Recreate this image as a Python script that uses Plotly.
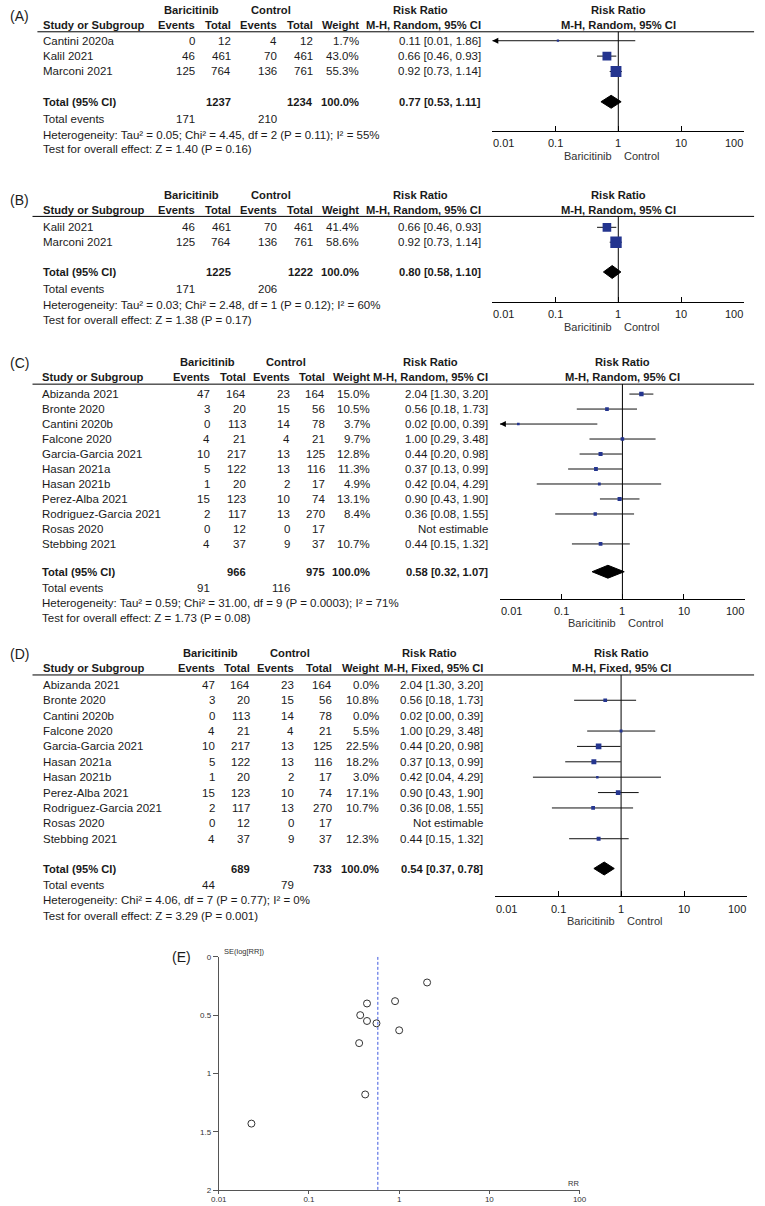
import math
import plotly.graph_objects as go

W, H = 765, 1206
FONT = "Liberation Sans, Arial, sans-serif"
TXT = "#1a1a1a"
BLUE = "#24358f"

# ---------------- data ----------------
# Panel A
studies_A = ["Cantini 2020a", "Kalil 2021", "Marconi 2021"]
ev_bari_A = [0, 46, 125]
n_bari_A = [12, 461, 764]
ev_ctrl_A = [4, 70, 136]
n_ctrl_A = [12, 461, 761]
weight_A = [1.7, 43.0, 55.3]
rr_A = [0.11, 0.66, 0.92]
lo_A = [0.01, 0.46, 0.73]
hi_A = [1.86, 0.93, 1.14]
tot_n_A = [1237, 1234]
tot_rr_A = [0.77, 0.53, 1.11]
tot_ev_A = [171, 210]
het_A = "Heterogeneity: Tau² = 0.05; Chi² = 4.45, df = 2 (P = 0.11); I² = 55%"
test_A = "Test for overall effect: Z = 1.40 (P = 0.16)"

# Panel B
studies_B = ["Kalil 2021", "Marconi 2021"]
ev_bari_B = [46, 125]
n_bari_B = [461, 764]
ev_ctrl_B = [70, 136]
n_ctrl_B = [461, 761]
weight_B = [41.4, 58.6]
rr_B = [0.66, 0.92]
lo_B = [0.46, 0.73]
hi_B = [0.93, 1.14]
tot_n_B = [1225, 1222]
tot_rr_B = [0.80, 0.58, 1.10]
tot_ev_B = [171, 206]
het_B = "Heterogeneity: Tau² = 0.03; Chi² = 2.48, df = 1 (P = 0.12); I² = 60%"
test_B = "Test for overall effect: Z = 1.38 (P = 0.17)"

# Panels C and D (same studies)
studies_CD = ["Abizanda 2021", "Bronte 2020", "Cantini 2020b", "Falcone 2020",
              "Garcia-Garcia 2021", "Hasan 2021a", "Hasan 2021b", "Perez-Alba 2021",
              "Rodriguez-Garcia 2021", "Rosas 2020", "Stebbing 2021"]
ev_bari_CD = [47, 3, 0, 4, 10, 5, 1, 15, 2, 0, 4]
n_bari_CD = [164, 20, 113, 21, 217, 122, 20, 123, 117, 12, 37]
ev_ctrl_CD = [23, 15, 14, 4, 13, 13, 2, 10, 13, 0, 9]
n_ctrl_CD = [164, 56, 78, 21, 125, 116, 17, 74, 270, 17, 37]
rr_CD = [2.04, 0.56, 0.02, 1.00, 0.44, 0.37, 0.42, 0.90, 0.36, None, 0.44]
lo_CD = [1.30, 0.18, 0.00, 0.29, 0.20, 0.13, 0.04, 0.43, 0.08, None, 0.15]
hi_CD = [3.20, 1.73, 0.39, 3.48, 0.98, 0.99, 4.29, 1.90, 1.55, None, 1.32]
weight_C = [15.0, 10.5, 3.7, 9.7, 12.8, 11.3, 4.9, 13.1, 8.4, None, 10.7]
weight_D = [0.0, 10.8, 0.0, 5.5, 22.5, 18.2, 3.0, 17.1, 10.7, None, 12.3]
tot_n_C = [966, 975]
tot_rr_C = [0.58, 0.32, 1.07]
tot_ev_C = [91, 116]
het_C = "Heterogeneity: Tau² = 0.59; Chi² = 31.00, df = 9 (P = 0.0003); I² = 71%"
test_C = "Test for overall effect: Z = 1.73 (P = 0.08)"
tot_n_D = [689, 733]
tot_rr_D = [0.54, 0.37, 0.78]
tot_ev_D = [44, 79]
het_D = "Heterogeneity: Chi² = 4.06, df = 7 (P = 0.77); I² = 0%"
test_D = "Test for overall effect: Z = 3.29 (P = 0.001)"

# Panel E (funnel plot of panel C studies)
funnel_rr = [2.04, 0.56, 0.023, 1.00, 0.44, 0.37, 0.42, 0.90, 0.36, 0.44]
funnel_se = [0.22, 0.57, 1.43, 0.63, 0.40, 0.50, 1.18, 0.38, 0.74, 0.55]

axis_ticks = [0.01, 0.1, 1, 10, 100]
axis_ticktext = ["0.01", "0.1", "1", "10", "100"]
se_ticks = [0, 0.5, 1, 1.5, 2]
se_ticktext = ["0", "0.5", "1", "1.5", "2"]

# ---------------- layout constants (pixels) ----------------
COLS_AB = dict(study=35, ev1=191.5, tot1=228, ev2=275, tot2=312, wt=359, rr=483,
               bari=187, ctrl=268, rrh=421)
COLS_C = dict(study=34, ev1=207.3, tot1=243.3, ev2=288.3, tot2=324, wt=370.7, rr=491,
              bari=203, ctrl=284, rrh=431)
COLS_D = dict(study=35, ev1=211.7, tot1=248.3, ev2=293, tot2=331, wt=379.3, rr=486,
              bari=206.7, ctrl=287.5, rrh=429.5)

panels = [
    dict(label="(A)", lab_y=12, h1=6, h2=21, line=28, x0=30, r0=37, s=15.5, total=98.5,
         te=116, het=131.5, test=146.5, axis=128, fx0=494, fx1=751, cols=COLS_AB,
         method="M-H, Random, 95% CI",
         studies=studies_A, ev1=ev_bari_A, n1=n_bari_A, ev2=ev_ctrl_A, n2=n_ctrl_A,
         w=weight_A, rr=rr_A, lo=lo_A, hi=hi_A, tn=tot_n_A, trr=tot_rr_A, tev=tot_ev_A,
         hettxt=het_A, testtxt=test_A),
    dict(label="(B)", lab_y=197, h1=192, h2=208, line=214, x0=25, r0=225, s=15, total=270,
         te=287, het=303, test=318, axis=300, fx0=494, fx1=751, cols=COLS_AB,
         method="M-H, Random, 95% CI",
         studies=studies_B, ev1=ev_bari_B, n1=n_bari_B, ev2=ev_ctrl_B, n2=n_ctrl_B,
         w=weight_B, rr=rr_B, lo=lo_B, hi=hi_B, tn=tot_n_B, trr=tot_rr_B, tev=tot_ev_B,
         hettxt=het_B, testtxt=test_B),
    dict(label="(C)", lab_y=362, h1=361, h2=376, line=383, x0=25, r0=393, s=15.1, total=572,
         te=588, het=604, test=619, axis=599, fx0=501.7, fx1=751.7, cols=COLS_C,
         method="M-H, Random, 95% CI",
         studies=studies_CD, ev1=ev_bari_CD, n1=n_bari_CD, ev2=ev_ctrl_CD, n2=n_ctrl_CD,
         w=weight_C, rr=rr_CD, lo=lo_CD, hi=hi_CD, tn=tot_n_C, trr=tot_rr_C, tev=tot_ev_C,
         hettxt=het_C, testtxt=test_C),
    dict(label="(D)", lab_y=655, h1=654, h2=669, line=676, x0=25, r0=686, s=15.5, total=871,
         te=888, het=903, test=919, axis=899, fx0=496.7, fx1=754, cols=COLS_D,
         method="M-H, Fixed, 95% CI",
         studies=studies_CD, ev1=ev_bari_CD, n1=n_bari_CD, ev2=ev_ctrl_CD, n2=n_ctrl_CD,
         w=weight_D, rr=rr_CD, lo=lo_CD, hi=hi_CD, tn=tot_n_D, trr=tot_rr_D, tev=tot_ev_D,
         hettxt=het_D, testtxt=test_D),
]

REG = 11.5
BOLD = 11.2
AX_MIN, AX_MAX = 0.01, 100

fig = go.Figure()
annotations = []
shapes = []
layout_axes = {}


def px_x(x):
    return x / W


def px_y(y):
    return 1 - y / H


def txt(x, y, text, xanchor="left", xref="paper", yref="paper", bold=False, size=None,
        color=TXT, xshift=0):
    if bold:
        text = "<b>" + text + "</b>"
    annotations.append(dict(
        x=x, y=y, xref=xref, yref=yref, text=text, showarrow=False,
        xanchor=xanchor, yanchor="middle", xshift=xshift, borderpad=0,
        font=dict(family=FONT, size=size or (BOLD if bold else REG), color=color)))


for k, P in enumerate(panels, start=1):
    sfx = "" if k == 1 else str(k)
    xa, ya = "x" + sfx, "y" + sfx
    C = P["cols"]
    r0, s = P["r0"], P["s"]

    def row(px, r0=r0, s=s):
        return (px - r0) / s

    top_px, bot_px = max(0, P["h1"] - 10), P["test"] + 10
    layout_axes["xaxis" + sfx] = dict(
        type="log", range=[math.log10(AX_MIN), math.log10(AX_MAX)],
        domain=[px_x(P["fx0"]), px_x(P["fx1"])], anchor="free",
        position=px_y(P["axis"]), showline=True, linecolor="black", linewidth=1,
        ticks="inside", ticklen=5, tickcolor="black", tickwidth=1,
        tickvals=axis_ticks, showticklabels=False, showgrid=False, zeroline=False,
        fixedrange=True)
    layout_axes["yaxis" + sfx] = dict(
        range=[row(bot_px), row(top_px)], domain=[px_y(bot_px), px_y(top_px)],
        anchor=xa, visible=False, showgrid=False, zeroline=False, fixedrange=True)

    # panel label
    txt(px_x(12), px_y(P["lab_y"]), P["label"], xanchor="center", size=14)

    # headers
    txt(px_x(C["bari"]), px_y(P["h1"]), "Baricitinib", "center", bold=True)
    txt(px_x(C["ctrl"]), px_y(P["h1"]), "Control", "center", bold=True)
    txt(px_x(C["rrh"]), px_y(P["h1"]), "Risk Ratio", "center", bold=True)
    txt(px_x(C["study"]), px_y(P["h2"]), "Study or Subgroup", "left", bold=True)
    txt(px_x(C["ev1"]), px_y(P["h2"]), "Events", "right", bold=True)
    txt(px_x(C["tot1"]), px_y(P["h2"]), "Total", "right", bold=True)
    txt(px_x(C["ev2"]), px_y(P["h2"]), "Events", "right", bold=True)
    txt(px_x(C["tot2"]), px_y(P["h2"]), "Total", "right", bold=True)
    txt(px_x(C["wt"]), px_y(P["h2"]), "Weight", "right", bold=True)
    txt(px_x(C["rr"]), px_y(P["h2"]), P["method"], "right", bold=True)
    txt(0, px_y(P["h1"]), "Risk Ratio", "center", xref=xa, bold=True)
    txt(0, px_y(P["h2"]), P["method"], "center", xref=xa, bold=True)

    shapes.append(dict(type="line", xref="paper", yref="paper",
                       x0=px_x(P["x0"]), x1=px_x(761), y0=px_y(P["line"]), y1=px_y(P["line"]),
                       line=dict(color="black", width=1)))

    # study rows
    for i, name in enumerate(P["studies"]):
        txt(px_x(C["study"]), i, name, "left", yref=ya)
        txt(px_x(C["ev1"]), i, str(P["ev1"][i]), "right", yref=ya)
        txt(px_x(C["tot1"]), i, str(P["n1"][i]), "right", yref=ya)
        txt(px_x(C["ev2"]), i, str(P["ev2"][i]), "right", yref=ya)
        txt(px_x(C["tot2"]), i, str(P["n2"][i]), "right", yref=ya)
        w = P["w"][i]
        if w is not None:
            txt(px_x(C["wt"]), i, f"{w:.1f}%", "right", yref=ya)
        if P["rr"][i] is None:
            rrtxt = "Not estimable"
        else:
            rrtxt = f"{P['rr'][i]:.2f} [{P['lo'][i]:.2f}, {P['hi'][i]:.2f}]"
        txt(px_x(C["rr"]), i, rrtxt, "right", yref=ya)

    # totals
    yt = row(P["total"])
    txt(px_x(C["study"]), yt, "Total (95% CI)", "left", yref=ya, bold=True)
    txt(px_x(C["tot1"]), yt, str(P["tn"][0]), "right", yref=ya, bold=True)
    txt(px_x(C["tot2"]), yt, str(P["tn"][1]), "right", yref=ya, bold=True)
    txt(px_x(C["wt"]), yt, "100.0%", "right", yref=ya, bold=True)
    trr = P["trr"]
    txt(px_x(C["rr"]), yt, f"{trr[0]:.2f} [{trr[1]:.2f}, {trr[2]:.2f}]", "right",
        yref=ya, bold=True)
    ye = row(P["te"])
    txt(px_x(C["study"]), ye, "Total events", "left", yref=ya)
    txt(px_x(C["ev1"]), ye, str(P["tev"][0]), "right", yref=ya)
    txt(px_x(C["ev2"]), ye, str(P["tev"][1]), "right", yref=ya)
    txt(px_x(C["study"]), row(P["het"]), P["hettxt"], "left", yref=ya)
    txt(px_x(C["study"]), row(P["test"]), P["testtxt"], "left", yref=ya)

    # forest axis labels
    ylab = row(P["axis"] + 12.5)
    for j, (v, t) in enumerate(zip(axis_ticks, axis_ticktext)):
        anc = "left" if j == 0 else ("right" if j == len(axis_ticks) - 1 else "center")
        txt(math.log10(v), ylab, t, anc, xref=xa, yref=ya, size=11)
    ybc = row(P["axis"] + 25)
    txt(0, ybc, "Baricitinib", "right", xref=xa, yref=ya, color="#333", xshift=-5, size=11)
    txt(0, ybc, "Control", "left", xref=xa, yref=ya, color="#333", xshift=5, size=11)

    # null line
    fig.add_trace(go.Scatter(x=[1, 1], y=[row(P["line"]), row(P["axis"])], xaxis=xa, yaxis=ya,
                             mode="lines", line=dict(color="black", width=1),
                             hoverinfo="skip"))

    # CI lines, squares, arrows
    lx, ly, sx, sy, ss, axs, ays = [], [], [], [], [], [], []
    for i in range(len(P["studies"])):
        w, r = P["w"][i], P["rr"][i]
        if r is None or w is None or w <= 0:
            continue
        lo = max(P["lo"][i], AX_MIN)
        hi = min(P["hi"][i], AX_MAX)
        lx += [lo, hi, None]
        ly += [i, i, None]
        sx.append(r)
        sy.append(i)
        ss.append(2 + 0.16 * w)
        if P["lo"][i] <= AX_MIN:
            axs.append(AX_MIN)
            ays.append(i)
    fig.add_trace(go.Scatter(x=lx, y=ly, xaxis=xa, yaxis=ya, mode="lines",
                             line=dict(color="#111", width=1), hoverinfo="skip"))
    fig.add_trace(go.Scatter(x=sx, y=sy, xaxis=xa, yaxis=ya, mode="markers",
                             marker=dict(symbol="square", size=ss, color=BLUE, opacity=1,
                                         line=dict(width=0)), hoverinfo="skip"))
    if axs:
        fig.add_trace(go.Scatter(x=axs, y=ays, xaxis=xa, yaxis=ya, mode="markers",
                                 cliponaxis=False,
                                 marker=dict(symbol="arrow-left", size=6, color="black",
                                             line=dict(width=0)), hoverinfo="skip"))
    # diamond
    hh = 6.5 / s
    fig.add_trace(go.Scatter(x=[trr[1], trr[0], trr[2], trr[0], trr[1]],
                             y=[yt, yt - hh, yt, yt + hh, yt], xaxis=xa, yaxis=ya,
                             mode="lines", fill="toself", fillcolor="black",
                             line=dict(color="black", width=1), hoverinfo="skip"))

# ---------------- funnel plot (E) ----------------
layout_axes["xaxis5"] = dict(
    type="log", range=[-2, 2], domain=[px_x(215), px_x(583)], anchor="y5",
    showline=True, linecolor="#555", linewidth=1, ticks="outside", ticklen=3,
    tickcolor="#555", tickvals=axis_ticks, ticktext=axis_ticktext, ticklabelstandoff=-2,
    tickfont=dict(family=FONT, size=8, color="#333"), showgrid=False, zeroline=False,
    fixedrange=True)
layout_axes["yaxis5"] = dict(
    range=[2, 0], domain=[px_y(1195), px_y(960)], anchor="x5", showline=True,
    linecolor="#555", linewidth=1, ticks="outside", ticklen=5, tickcolor="#555",
    tickvals=se_ticks, ticktext=se_ticktext,
    tickfont=dict(family=FONT, size=8, color="#333"), showgrid=False, zeroline=False,
    fixedrange=True)

fig.add_trace(go.Scatter(x=[tot_rr_C[0], tot_rr_C[0]], y=[0, 2], xaxis="x5", yaxis="y5",
                         mode="lines", line=dict(color="#3f5ae0", width=1, dash="3px,2px"),
                         hoverinfo="skip"))
fig.add_trace(go.Scatter(x=funnel_rr, y=funnel_se, xaxis="x5", yaxis="y5", mode="markers",
                         marker=dict(symbol="circle-open", size=7, color="#333",
                                     line=dict(width=1)), hoverinfo="skip"))
txt(px_x(177), px_y(960), "(E)", "center", size=14)
txt(px_x(219), px_y(955), "SE(log[RR])", "left", size=7.5, color="#333")
txt(px_x(583), px_y(1188), "RR", "right", size=7.5, color="#333")

fig.update_layout(
    width=W, height=H, margin=dict(l=0, r=0, t=0, b=0),
    paper_bgcolor="white", plot_bgcolor="rgba(0,0,0,0)", showlegend=False,
    hovermode=False, annotations=annotations, shapes=shapes, **layout_axes)

fig.write_html("out.html", config={"displayModeBar": False, "staticPlot": True},
               post_script="document.body.style.margin='0';document.body.style.overflow='hidden';")
